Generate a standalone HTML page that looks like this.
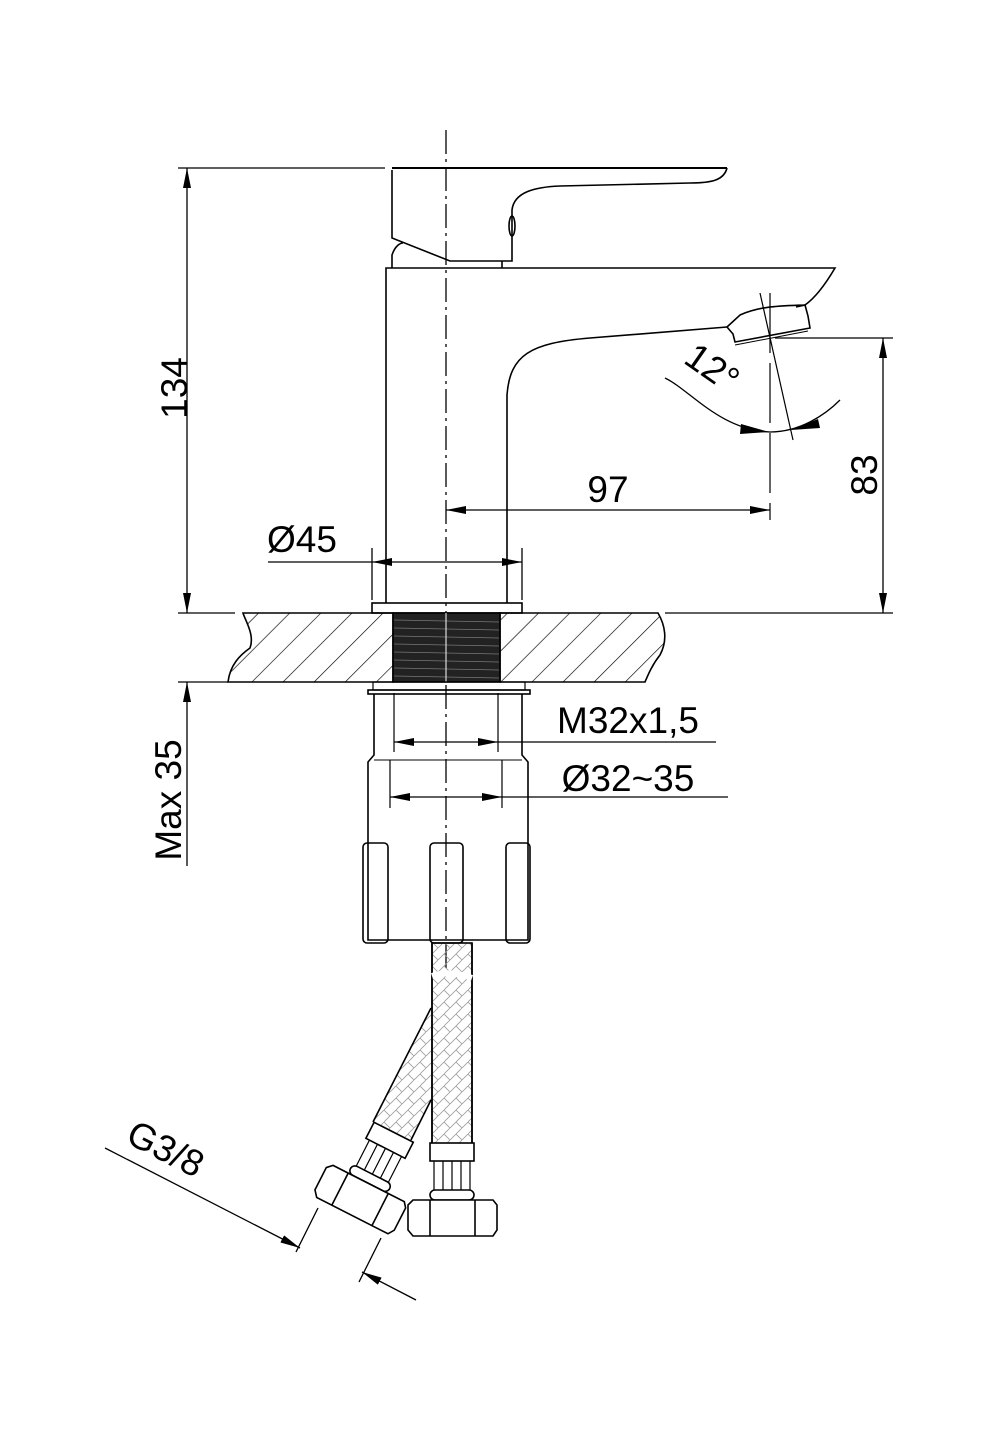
<!DOCTYPE html>
<html><head><meta charset="utf-8"><style>html,body{margin:0;padding:0;background:#fff}svg{display:block}</style></head>
<body>
<svg width="1000" height="1430" viewBox="0 0 1000 1430" xmlns="http://www.w3.org/2000/svg" font-family="'Liberation Sans', sans-serif">
<defs>
<marker id="a" viewBox="0 0 20 8" refX="20" refY="4" markerWidth="20" markerHeight="8" markerUnits="userSpaceOnUse" orient="auto-start-reverse"><path d="M0,0 L20,4 L0,8 Z" fill="#000"/></marker>
<pattern id="hatch" width="22" height="22" patternUnits="userSpaceOnUse" patternTransform="rotate(45)"><line x1="0" y1="0" x2="0" y2="22" stroke="#000" stroke-width="1.3"/></pattern>
<pattern id="braid" width="12" height="12" patternUnits="userSpaceOnUse"><path d="M0,6 L6,0 M6,12 L12,6 M0,6 L6,12" stroke="#999" stroke-width="0.8" fill="none"/></pattern>
</defs>
<g fill="none" stroke="#000" stroke-width="1.6">
<line x1="446" y1="130" x2="446" y2="975" stroke-width="1.3" stroke-dasharray="24,5,3,5"/>
<line x1="392" y1="168" x2="727" y2="168" stroke-width="2"/>
<path d="M727,168 C724,180 712,183 690,183 L560,186 C535,187 514,192 512,210 L512,261 L450,261 L392,238 L392,170"/>
<ellipse cx="512" cy="226" rx="3" ry="10"/>
<path d="M392,268 L392,255 C395,246 400,243 403,243"/>
<line x1="502" y1="261" x2="502" y2="268"/>
<path d="M386,603 L386,268 L835,268 C825,285 815,298 805,305 L796,307"/>
<path d="M507,603 L507,395 C510,355 530,343 590,338 L727,327"/>
<path d="M727,327 L733,334 L735,342 L810,328 L808,316 L805,305 C780,306 760,306 740,315 Z"/>
<line x1="735" y1="345" x2="808" y2="331" stroke-width="1"/>
<line x1="760" y1="293" x2="793" y2="440" stroke-width="1.2"/>
<line x1="770" y1="293" x2="770" y2="520" stroke-width="1.2" stroke-dasharray="60,10"/>
<path d="M665,378 C690,390 720,430 770,432 C800,432 825,415 840,400" stroke-width="1.3"/>
<path d="M769,432 L741,424 L740,434 Z M791,430 L818,419 L820,428 Z" fill="#000" stroke="none"/>
<rect x="372" y="603" width="150" height="10"/>
<line x1="178" y1="168" x2="385" y2="168" stroke-width="1.3"/>
<line x1="178" y1="613" x2="235" y2="613" stroke-width="1.3"/>
<line x1="187" y1="168" x2="187" y2="613" stroke-width="1.3" marker-start="url(#a)" marker-end="url(#a)"/>
<line x1="372" y1="548" x2="372" y2="600" stroke-width="1.3"/>
<line x1="522" y1="548" x2="522" y2="600" stroke-width="1.3"/>
<line x1="268" y1="562" x2="372" y2="562" stroke-width="1.3"/>
<line x1="372" y1="562" x2="522" y2="562" stroke-width="1.3" marker-start="url(#a)" marker-end="url(#a)"/>
<line x1="446" y1="510" x2="770" y2="510" stroke-width="1.3" marker-start="url(#a)" marker-end="url(#a)"/>
<line x1="775" y1="338" x2="893" y2="338" stroke-width="1.3"/>
<line x1="665" y1="613" x2="893" y2="613" stroke-width="1.3"/>
<line x1="883" y1="338" x2="883" y2="613" stroke-width="1.3" marker-start="url(#a)" marker-end="url(#a)"/>
<path d="M243,613 L393,613 L393,682 L228,682 C230,665 240,655 250,648 C255,635 245,620 243,613 Z" fill="url(#hatch)"/>
<path d="M500,613 L658,613 C665,625 668,640 660,655 C652,665 648,675 645,682 L500,682 Z" fill="url(#hatch)"/>
<rect x="393" y="613" width="107" height="69" fill="#222" stroke="#000"/>
<g stroke="#777" stroke-width="0.8">
<line x1="394" y1="620" x2="499" y2="622"/><line x1="394" y1="628" x2="499" y2="630"/><line x1="394" y1="636" x2="499" y2="638"/><line x1="394" y1="644" x2="499" y2="646"/><line x1="394" y1="652" x2="499" y2="654"/><line x1="394" y1="660" x2="499" y2="662"/><line x1="394" y1="668" x2="499" y2="670"/><line x1="394" y1="676" x2="499" y2="678"/>
</g>
<line x1="446" y1="613" x2="446" y2="682" stroke="#fff" stroke-width="1"/>
<rect x="368" y="690" width="162" height="4"/>
<rect x="373" y="682" width="152" height="8" stroke-width="1.2"/>
<path d="M374,694 L374,755 L368,762 L368,940 L528,940 L528,762 L522,755 L522,694"/>
<line x1="374" y1="760" x2="522" y2="760" stroke-width="1"/>
<rect x="363" y="843" width="25" height="100" rx="4"/>
<rect x="430" y="843" width="33" height="100" rx="4"/>
<rect x="506" y="843" width="24" height="100" rx="4"/>
<line x1="394" y1="693" x2="394" y2="752" stroke-width="1.2"/>
<line x1="498" y1="693" x2="498" y2="752" stroke-width="1.2"/>
<line x1="390" y1="760" x2="390" y2="808" stroke-width="1.2"/>
<line x1="502" y1="760" x2="502" y2="808" stroke-width="1.2"/>
<line x1="498" y1="742" x2="716" y2="742" stroke-width="1.3"/>
<line x1="394" y1="742" x2="498" y2="742" stroke-width="1.3" marker-start="url(#a)" marker-end="url(#a)"/>
<line x1="502" y1="797" x2="728" y2="797" stroke-width="1.3"/>
<line x1="390" y1="797" x2="502" y2="797" stroke-width="1.3" marker-start="url(#a)" marker-end="url(#a)"/>
<line x1="178" y1="682" x2="228" y2="682" stroke-width="1.3"/>
<line x1="187" y1="682" x2="187" y2="866" stroke-width="1.3" marker-start="url(#a)"/>
<!-- hoses -->
<rect x="432" y="943" width="40" height="210" fill="url(#braid)"/>
<line x1="432" y1="943" x2="432" y2="1155"/><line x1="472" y1="943" x2="472" y2="1155"/>
<path d="M431,1008 L431,1100 L411,1140 L373,1122 Z" fill="url(#braid)" stroke="none"/>
<line x1="431" y1="1008" x2="373" y2="1122"/>
<line x1="431" y1="1100" x2="411" y2="1140"/>
<path d="M432,976 Q450,970 472,978" stroke="#fff" stroke-width="6"/>
<rect x="430" y="1143" width="44" height="18" fill="#fff"/>
<path d="M434,1161 L434,1193 M443,1161 L443,1193 M452,1161 L452,1193 M461,1161 L461,1193 M470,1161 L470,1193" stroke-width="1.2"/>
<rect x="430" y="1190" width="44" height="10" rx="5" fill="#fff"/>
<path d="M413,1200 L493,1200 L497,1205 L497,1230 L493,1236 L413,1236 L408,1230 L408,1205 Z" fill="#fff"/>
<line x1="430" y1="1200" x2="430" y2="1236"/><line x1="475" y1="1200" x2="475" y2="1236"/>
<g transform="translate(337,1173) rotate(27)">
<rect x="10" y="-62" width="44" height="18" fill="#fff"/>
<path d="M14,-44 L14,-12 M23,-44 L23,-12 M32,-44 L32,-12 M41,-44 L41,-12 M50,-44 L50,-12" stroke-width="1.2"/>
<rect x="10" y="-15" width="44" height="10" rx="5" fill="#fff"/>
<path d="M-7,-5 L73,-5 L77,0 L77,25 L73,31 L-7,31 L-12,25 L-12,0 Z" fill="#fff"/>
<line x1="10" y1="-5" x2="10" y2="31"/><line x1="55" y1="-5" x2="55" y2="31"/>
</g>
<line x1="105" y1="1148" x2="300" y2="1248" stroke-width="1.3" marker-end="url(#a)"/>
<line x1="416" y1="1300" x2="362" y2="1272" stroke-width="1.3" marker-end="url(#a)"/>
<line x1="318" y1="1208" x2="296" y2="1252" stroke-width="1.3"/>
<line x1="381" y1="1238" x2="359" y2="1282" stroke-width="1.3"/>
</g>
<g font-size="37" fill="#000">
<text x="302" y="552" text-anchor="middle">Ø45</text>
<text x="608" y="502" text-anchor="middle">97</text>
<text x="628" y="733" text-anchor="middle">M32x1,5</text>
<text x="628" y="791" text-anchor="middle">Ø32~35</text>
<text transform="translate(187,388) rotate(-90)" text-anchor="middle">134</text>
<text transform="translate(877,475) rotate(-90)" text-anchor="middle">83</text>
<text transform="translate(181,800) rotate(-90)" text-anchor="middle">Max 35</text>
<text transform="translate(705,378) rotate(35)" text-anchor="middle">12°</text>
<text transform="translate(160,1160) rotate(27)" text-anchor="middle">G3/8</text>
</g>
</svg>
</body></html>
